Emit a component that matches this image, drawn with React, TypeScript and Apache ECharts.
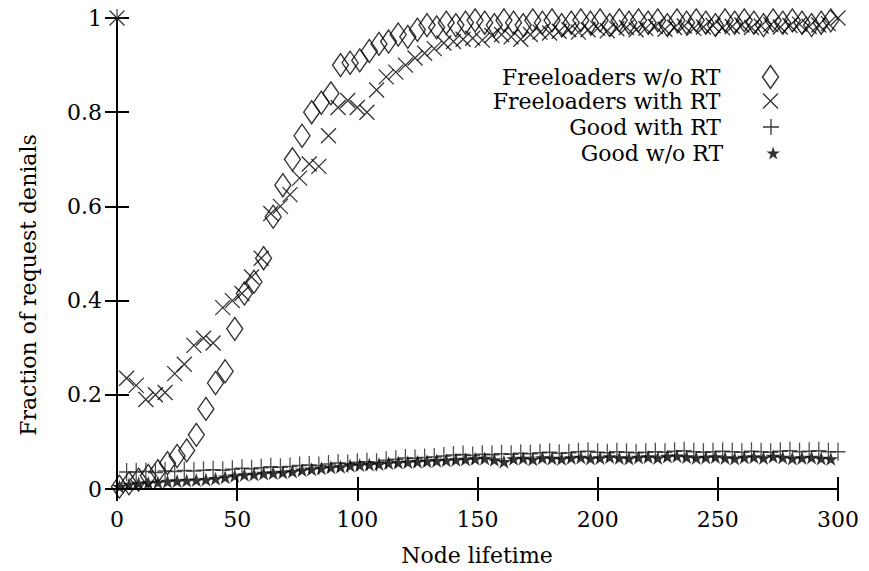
import React, { useEffect, useRef } from "react";
import * as echarts from "echarts";

// Node lifetime sample positions
const lifetimeWithRT = [
  0, 4, 8, 12, 16, 20, 24, 28, 32, 36, 40, 44, 48, 52, 56, 60, 64, 68, 72, 76,
  80, 84, 88, 92, 96, 100, 104, 108, 112, 116, 120, 124, 128, 132, 136, 140, 144, 148, 152, 156,
  160, 164, 168, 172, 176, 180, 184, 188, 192, 196, 200, 204, 208, 212, 216, 220, 224, 228, 232, 236,
  240, 244, 248, 252, 256, 260, 264, 268, 272, 276, 280, 284, 288, 292, 296, 300,
];
const lifetimeNoRT = [
  1, 5, 9, 13, 17, 21, 25, 29, 33, 37, 41, 45, 49, 53, 57, 61, 65, 69, 73, 77,
  81, 85, 89, 93, 97, 101, 105, 109, 113, 117, 121, 125, 129, 133, 137, 141, 145, 149, 153, 157,
  161, 165, 169, 173, 177, 181, 185, 189, 193, 197, 201, 205, 209, 213, 217, 221, 225, 229, 233, 237,
  241, 245, 249, 253, 257, 261, 265, 269, 273, 277, 281, 285, 289, 293, 297,
];

const freeloadersNoRT = [
  0.005, 0.012, 0.02, 0.028, 0.038, 0.055, 0.07, 0.082, 0.115, 0.17,
  0.225, 0.25, 0.34, 0.415, 0.44, 0.49, 0.578, 0.645, 0.7, 0.75,
  0.8, 0.82, 0.84, 0.9, 0.905, 0.91, 0.93, 0.945, 0.95, 0.965,
  0.96, 0.975, 0.985, 0.98, 0.99, 0.985, 0.99, 0.995, 0.99, 0.985,
  0.995, 0.99, 0.985, 0.995, 0.99, 0.995, 0.985, 0.99, 0.995, 0.99,
  0.995, 0.985, 0.995, 0.99, 0.995, 0.99, 0.995, 0.985, 0.995, 0.99,
  0.995, 0.99, 0.985, 0.995, 0.99, 0.995, 0.99, 0.985, 0.995, 0.99,
  0.995, 0.99, 0.985, 0.99, 0.995,
];

const freeloadersWithRT = [
  1.0, 0.235, 0.22, 0.19, 0.2, 0.205, 0.245, 0.265, 0.305, 0.32,
  0.31, 0.385, 0.4, 0.415, 0.45, 0.49, 0.585, 0.6, 0.625, 0.66,
  0.69, 0.685, 0.75, 0.81, 0.825, 0.81, 0.8, 0.847, 0.875, 0.885,
  0.9, 0.915, 0.925, 0.935, 0.947, 0.95, 0.955, 0.957, 0.953, 0.963,
  0.965, 0.96, 0.955, 0.965, 0.97, 0.968, 0.972, 0.975, 0.97, 0.975,
  0.978, 0.973, 0.977, 0.98, 0.975, 0.978, 0.982, 0.976, 0.98, 0.983,
  0.978, 0.981, 0.984, 0.979, 0.982, 0.985, 0.98, 0.983, 0.986, 0.981,
  0.984, 0.987, 0.982, 0.985, 0.988, 1.0,
];

const goodWithRT = [
  1.0, 0.036, 0.036, 0.037, 0.035, 0.038, 0.037, 0.039, 0.038, 0.04,
  0.041, 0.04, 0.042, 0.044, 0.043, 0.045, 0.047, 0.046, 0.048, 0.05,
  0.051, 0.05, 0.053, 0.055, 0.054, 0.057, 0.058, 0.057, 0.061, 0.063,
  0.066, 0.065, 0.067, 0.068, 0.07, 0.072, 0.073, 0.071, 0.074, 0.073,
  0.075, 0.074, 0.076, 0.075, 0.077, 0.078, 0.076, 0.077, 0.079, 0.08,
  0.078, 0.077, 0.079, 0.078, 0.077, 0.078, 0.079, 0.078, 0.08, 0.081,
  0.079, 0.078, 0.079, 0.08, 0.079, 0.078, 0.08, 0.079, 0.078, 0.08,
  0.081, 0.079, 0.08, 0.081, 0.079, 0.079,
];

const goodNoRT = [
  0.005, 0.01, 0.012, 0.013, 0.014, 0.016, 0.017, 0.018, 0.019, 0.02,
  0.022, 0.025, 0.028, 0.03, 0.031, 0.033, 0.034, 0.035, 0.037, 0.04,
  0.042, 0.044, 0.046, 0.047, 0.05, 0.051, 0.052, 0.053, 0.055, 0.056,
  0.057, 0.058, 0.059, 0.06, 0.061, 0.062, 0.063, 0.064, 0.065, 0.062,
  0.058, 0.064, 0.065, 0.063, 0.066, 0.065, 0.064, 0.066, 0.067, 0.065,
  0.066, 0.068, 0.066, 0.065, 0.067, 0.068, 0.066, 0.069, 0.07, 0.068,
  0.066, 0.067, 0.068, 0.066, 0.065, 0.067, 0.068, 0.066, 0.069, 0.067,
  0.065, 0.066, 0.067, 0.065, 0.064,
];

const seriesNames = ["Freeloaders w/o RT", "Freeloaders with RT", "Good with RT", "Good w/o RT"];
const xTicks = { min: 0, max: 300, interval: 50 };
const yTicks = { min: 0, max: 1, interval: 0.2 };
const xTitle = "Node lifetime";
const yTitle = "Fraction of request denials";

const FONT = '"DejaVu Serif", "Liberation Serif", serif';
const FS = 22;

const CROSS = "path://M0,0L10,10M10,0L0,10";
const PLUS = "path://M5,0L5,10M0,5L10,5";
const STAR =
  "path://M50,0L61.17,34.63L97.55,34.55L68.07,55.87L79.39,90.45L50,69L20.61,90.45L31.93,55.87L2.45,34.55L38.83,34.63Z";

export default function App() {
  const ref = useRef<HTMLDivElement>(null);

  useEffect(() => {
    if (!ref.current) return;
    const chart = echarts.init(ref.current, undefined, { renderer: "svg" });

    const pair = (xs: number[], ys: number[]) => xs.map((x, i) => [x, ys[i]]);

    const axisCommon = {
      axisLine: { show: true, lineStyle: { color: "#000", width: 2 } },
      axisTick: { show: true, inside: true, length: 12, lineStyle: { color: "#000", width: 2 } },
      splitLine: { show: false },
    };

    const iconCenterX = 773;
    const rows = [75, 101, 127, 153];
    const icons = [
      { w: 16, h: 23, style: { color: "none", borderColor: "#000", borderWidth: 1.4 } },
      { w: 15, h: 15, style: { color: "none", borderColor: "#000", borderWidth: 1.3 } },
      { w: 17, h: 16, style: { color: "none", borderColor: "#000", borderWidth: 1.3 } },
      { w: 14, h: 13, style: { color: "#000", borderWidth: 0 } },
    ];

    const legends = seriesNames.map((name, i) => ({
      data: [name],
      orient: "vertical",
      align: "right",
      padding: 0,
      selectedMode: false,
      right: 869 - iconCenterX - icons[i].w / 2,
      top: rows[i] - 12,
      itemWidth: icons[i].w,
      itemHeight: icons[i].h,
      itemStyle: icons[i].style,
      textStyle: {
        fontFamily: FONT,
        fontSize: FS,
        lineHeight: 24,
        color: "#000",
        padding: [0, 45 - icons[i].w / 2, 0, 0],
      },
    }));

    chart.setOption({
      animation: false,
      backgroundColor: "#fff",
      grid: { left: 117, right: 31, top: 18, bottom: 82, containLabel: false },
      legend: legends,
      xAxis: [
        {
          type: "value",
          ...xTicks,
          ...axisCommon,
          axisLabel: { margin: 19, fontFamily: FONT, fontSize: FS, color: "#000" },
        },
        {
          type: "value",
          position: "top",
          ...xTicks,
          ...axisCommon,
          axisLabel: { show: false },
        },
      ],
      yAxis: [
        {
          type: "value",
          ...yTicks,
          ...axisCommon,
          axisLabel: {
            margin: 15,
            fontFamily: FONT,
            fontSize: FS,
            color: "#000",
            formatter: (v: number) => String(+v.toFixed(1)),
          },
        },
        {
          type: "value",
          position: "right",
          ...yTicks,
          ...axisCommon,
          axisLabel: { show: false },
        },
      ],
      graphic: [
        {
          type: "text",
          x: 477,
          y: 555,
          style: {
            text: xTitle,
            fontFamily: FONT,
            fontSize: FS,
            fill: "#000",
            align: "center",
            verticalAlign: "middle",
          },
        },
        {
          type: "text",
          x: 28,
          y: 285,
          rotation: Math.PI / 2,
          style: {
            text: yTitle,
            fontFamily: FONT,
            fontSize: FS,
            fill: "#000",
            align: "center",
            verticalAlign: "middle",
          },
        },
      ],
      series: [
        {
          name: seriesNames[0],
          type: "scatter",
          clip: false,
          symbol: "diamond",
          symbolSize: [16, 23],
          itemStyle: { color: "none", borderColor: "#000", borderWidth: 1.4 },
          data: pair(lifetimeNoRT, freeloadersNoRT),
          z: 2,
        },
        {
          name: seriesNames[1],
          type: "scatter",
          clip: false,
          symbol: CROSS,
          symbolSize: [15, 15],
          itemStyle: { color: "none", borderColor: "#000", borderWidth: 1.3 },
          data: pair(lifetimeWithRT, freeloadersWithRT),
          z: 3,
        },
        {
          name: seriesNames[2],
          type: "scatter",
          clip: false,
          symbol: PLUS,
          symbolSize: [15, 18],
          itemStyle: { color: "none", borderColor: "#222", borderWidth: 1.4 },
          data: pair(lifetimeWithRT, goodWithRT),
          z: 4,
        },
        {
          name: seriesNames[3],
          type: "scatter",
          clip: false,
          symbol: STAR,
          symbolSize: [15, 14],
          itemStyle: { color: "#000", borderWidth: 0 },
          data: pair(lifetimeNoRT, goodNoRT),
          z: 5,
        },
      ],
    });

    return () => chart.dispose();
  }, []);

  return (
    <div
      ref={ref}
      style={{ position: "absolute", left: 0, top: 0, width: 869, height: 571, background: "#fff" }}
    />
  );
}
